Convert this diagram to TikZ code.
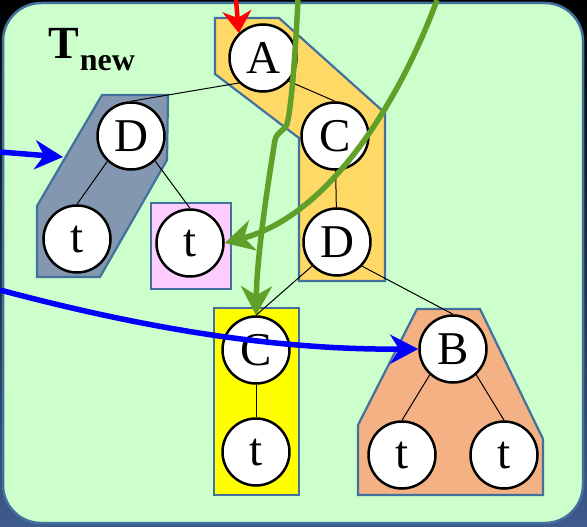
\documentclass[tikz,border=0pt]{standalone}
\usepackage{fontspec}
\setmainfont{Liberation Serif}
\usetikzlibrary{arrows.meta}
\definecolor{panel}{HTML}{CCFFCC}
\definecolor{groupline}{HTML}{41719C}
\definecolor{shadowblue}{HTML}{3E5A8C}
\definecolor{orangefill}{HTML}{FFD966}
\definecolor{greyfill}{HTML}{8497B0}
\definecolor{pinkfill}{HTML}{FFCCFF}
\definecolor{yellowfill}{HTML}{FFFF00}
\definecolor{salmonfill}{HTML}{F4B183}
\definecolor{pathgreen}{RGB}{96,160,40}
\begin{document}
\begin{tikzpicture}[x=1pt,y=-1pt,
  treenode/.style={circle, draw=black, line width=2.5pt, fill=white,
    minimum size=67pt, inner sep=0pt, font=\fontsize{47}{47}\selectfont},
  group/.style={draw=groupline, line width=2.2pt, line join=miter},
  link/.style={black, line width=1pt},
  greenarrow/.style={pathgreen, line width=5.5pt,
    -{Stealth[length=29pt,width=31pt,inset=9pt]}},
  bluearrow/.style={blue, line width=5.5pt,
    -{Stealth[length=28pt,width=29pt,inset=9pt]}},
  redarrow/.style={red, line width=4.5pt,
    -{Stealth[length=22pt,width=29pt,inset=7pt]}}
]
\useasboundingbox (0,0) rectangle (587,527);
% backdrop and panel
\shade[top color=black, middle color=black, bottom color=shadowblue]
  (0,0) rectangle (587,527);
\draw[fill=panel, draw=groupline, line width=2.5pt, rounded corners=38pt]
  (3,3) rectangle (583,523);

% title
\node[anchor=base west, inner sep=0pt,
  font=\bfseries\fontsize{46}{46}\selectfont] (title) at (48,59)
  {T\kern1pt\raisebox{-12pt}{\fontsize{32}{32}\selectfont new}};

% group outlines
\draw[group, fill=orangefill] (215,18) -- (279,18) -- (385,113) -- (385,281)
  -- (299,281) -- (299,138) -- (215,74) -- cycle;
\draw[group, fill=greyfill] (102,95) -- (168,95) -- (167,160) -- (100,277)
  -- (37,277) -- (37,206) -- cycle;
\draw[group, fill=pinkfill] (151,203) rectangle (231,289);
\draw[group, fill=yellowfill] (214,308) rectangle (299,495);
\draw[group, fill=salmonfill] (417,309) -- (480,309) -- (543,439)
  -- (543,495) -- (358,495) -- (358,425) -- cycle;

% tree nodes
\node[treenode] (A)  at (263,58)  {A};
\node[treenode] (C1) at (335,136) {C};
\node[treenode] (D2) at (337,242) {D};
\node[treenode] (D1) at (131,136) {D};
\node[treenode] (T1) at (77,239)  {t};
\node[treenode] (T2) at (190,243) {t};
\node[treenode] (C2) at (256,350) {C};
\node[treenode] (T3) at (256,452) {t};
\node[treenode] (B)  at (453,349) {B};
\node[treenode] (T4) at (402,455) {t};
\node[treenode] (T5) at (504,455) {t};

% tree edges
\draw[link] (A.-134) -- (D1.north);
\draw[link] (A.-42) -- (C1.north);
\draw[link] (C1) -- (D2);
\draw[link] (D1.-133) -- (T1.north);
\draw[link] (D1.-46) -- (T2.north);
\draw[link] (D2.-136) -- (C2.north);
\draw[link] (D2.-44) -- (B.north);
\draw[link] (C2) -- (T3);
\draw[link] (B.-132) -- (T4.north);
\draw[link] (B.-48) -- (T5.north);

% arrows
\coordinate (redsrc) at (236,0);
\draw[redarrow] (redsrc) -- (A.134);

\coordinate (bluesrcA) at (0,152);
\coordinate (greyedge) at (63,157);
\draw[bluearrow] (bluesrcA) -- (greyedge);

\coordinate (bluesrcB) at (0,290);
\draw[bluearrow] (bluesrcB) .. controls (150,330) and (280,350) .. (B.west);

\coordinate (greensrcA) at (298,0);
\draw[greenarrow] (greensrcA) .. controls (295,60) and (291,110) .. (287,124)
  .. controls (284,132) and (278,130) .. (275,140)
  .. controls (271,165) and (257,250) .. (C2.north);

\coordinate (greensrcB) at (437,0);
\draw[greenarrow] (greensrcB) .. controls (400,100) and (330,215) .. (T2.east);
\end{tikzpicture}
\end{document}
